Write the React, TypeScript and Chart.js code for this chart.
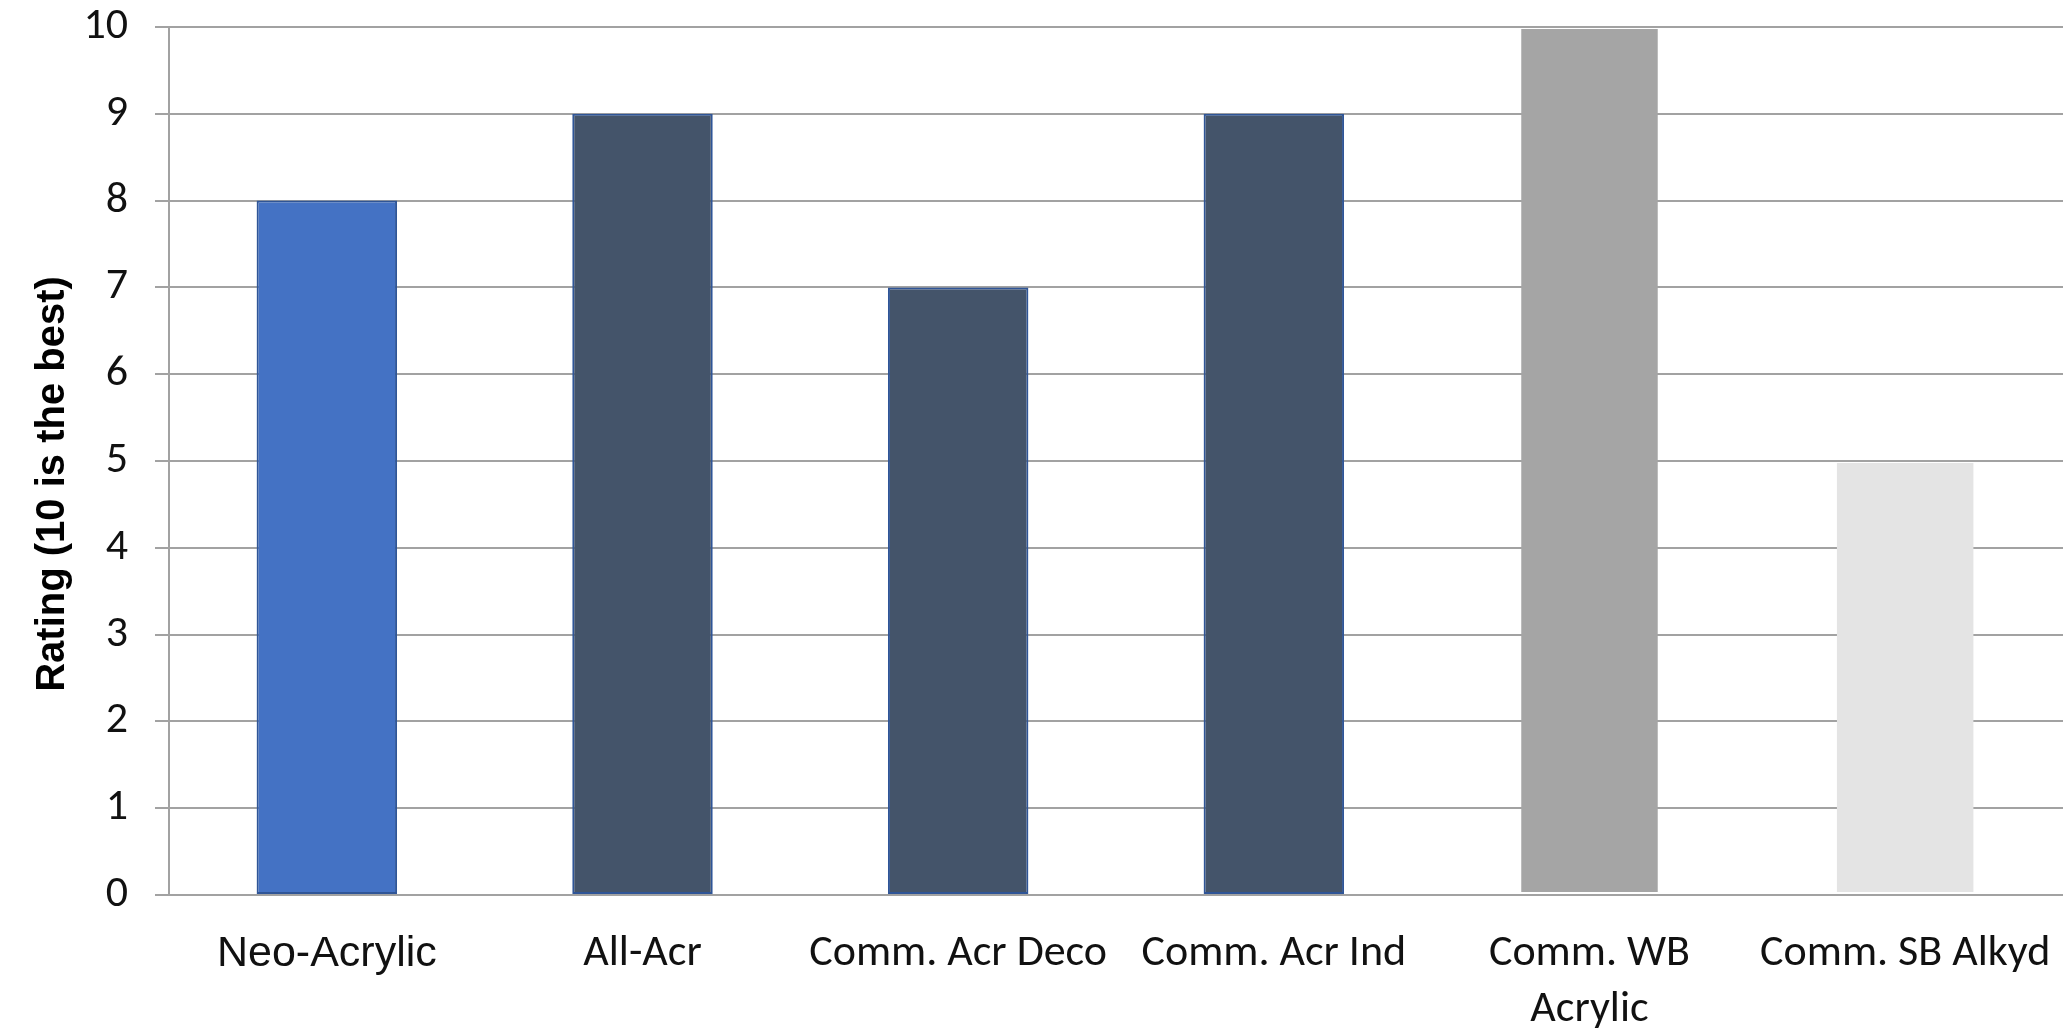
import React, { useEffect, useRef } from "react";
import { Chart, registerables } from "chart.js";

Chart.register(...registerables);

// Paint systems and their ratings (10 is the best)
const categories: (string | string[])[] = [
  "Neo-Acrylic",
  "All-Acr",
  "Comm. Acr Deco",
  "Comm. Acr Ind",
  ["Comm. WB", "Acrylic"],
  "Comm. SB Alkyd",
];
const ratings = [8, 9, 7, 9, 10, 5];
const barColors = ["#4472C4", "#44546A", "#44546A", "#44546A", "#A5A5A5", "#E4E4E4"];
const barBorders = ["#2F5597", "#2F5597", "#2F5597", "#2F5597", "rgba(0,0,0,0)", "rgba(0,0,0,0)"];
const yMin = 0;
const yMax = 10;
const yStep = 1;
const yTitle = "Rating (10 is the best)";

const W = 2063;
const H = 1029;
const GRID = "#A2A2A2";
const LABEL_FONT = "Carlito, Lato, 'Liberation Sans', sans-serif";

// Rotated y-axis title, drawn a little below the plot's vertical centre
const yTitlePlugin = {
  id: "yTitle",
  afterDraw(chart: Chart) {
    const { ctx, chartArea } = chart;
    ctx.save();
    ctx.translate(53, (chartArea.top + chartArea.bottom) / 2 + 23);
    ctx.rotate(-Math.PI / 2);
    ctx.font = "bold 40px 'Liberation Sans', Arial, sans-serif";
    ctx.fillStyle = "#000";
    ctx.textAlign = "center";
    ctx.textBaseline = "middle";
    ctx.fillText(yTitle, 0, 0);
    ctx.restore();
  },
};

export default function App() {
  const ref = useRef<HTMLCanvasElement | null>(null);

  useEffect(() => {
    if (!ref.current) return;
    const chart = new Chart(ref.current, {
      type: "bar",
      data: {
        labels: categories,
        datasets: [
          {
            data: ratings,
            backgroundColor: barColors,
            borderColor: barBorders,
            borderWidth: 2,
            borderSkipped: false,
            categoryPercentage: 1,
            barPercentage: 0.445,
          },
        ],
      },
      options: {
        responsive: false,
        animation: false,
        layout: { padding: { top: 27, right: 0, left: 0, bottom: 0 } },
        plugins: {
          legend: { display: false },
          tooltip: { enabled: false },
        },
        scales: {
          x: {
            grid: { display: false, drawTicks: false },
            border: { display: true, color: GRID, width: 2 },
            ticks: {
              padding: 31,
              maxRotation: 0,
              autoSkip: false,
              color: "#111",
              font: (ctx: any) =>
                ctx.index === 0
                  ? { family: "'Liberation Sans', Arial, sans-serif", size: 43, lineHeight: "56px" }
                  : { family: LABEL_FONT, size: 44, lineHeight: "56px" },
            },
            afterFit: (scale: any) => {
              scale.height = 134;
              scale.paddingLeft = 0;
              scale.paddingRight = 0;
            },
          },
          y: {
            min: yMin,
            max: yMax,
            grid: { color: GRID, lineWidth: 2, drawTicks: true, tickLength: 14 },
            border: { display: true, color: GRID, width: 2 },
            ticks: {
              stepSize: yStep,
              padding: 27,
              color: "#111",
              font: { family: LABEL_FONT, size: 44 },
            },
            afterFit: (scale: any) => {
              scale.width = 169;
              scale.paddingTop = 0;
              scale.paddingBottom = 0;
            },
          },
        },
      },
      plugins: [yTitlePlugin],
    });
    return () => chart.destroy();
  }, []);

  return (
    <div style={{ position: "fixed", left: 0, top: 0, width: W, height: H, background: "#fff" }}>
      <canvas ref={ref} width={W} height={H} style={{ display: "block" }} />
    </div>
  );
}
